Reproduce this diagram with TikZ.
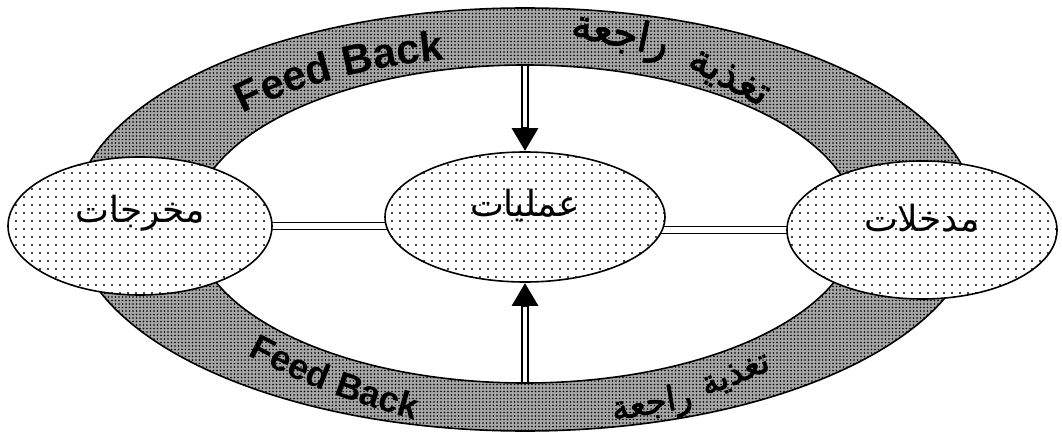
\documentclass[tikz,border=0pt]{standalone}
\usepackage{fontspec}
\setsansfont{Liberation Sans}
\newfontfamily\arabicfont[Script=Arabic]{DejaVu Sans}
\newfontface\arabicheavy[Script=Arabic,FakeBold=2]{DejaVu Sans}
\TeXXeTstate=1
\usetikzlibrary{shapes.geometric,arrows.meta,patterns.meta,decorations.text,backgrounds}

\begin{document}
\begin{tikzpicture}[
        x=1pt, y=1pt,
        blob/.style={
            ellipse,
            draw,
            line width=1.6pt,
            preaction={fill=white},
            pattern={Dots[distance=8pt, radius=1.1pt]},
            inner sep=0pt
        },
        lbl/.style={font=\arabicfont\fontsize{36}{38}\selectfont},
        ring/.style={draw, line width=1.6pt, even odd rule,
            preaction={fill=black!35, even odd rule},
            pattern={Dots[distance=3.5pt, radius=0.9pt]}},
        link/.style={draw, double, double distance=6pt, line width=1.3pt},
        feedarrow/.style={line width=8pt, -{Triangle[length=23pt, width=25pt]}},
        core/.style={white, line width=3.6pt, shorten <=1.5pt, shorten >=24pt},
        artop/.style={font=\arabicheavy\fontsize{41}{41}\selectfont, inner sep=0pt},
        arbot/.style={font=\arabicheavy\fontsize{34}{34}\selectfont, inner sep=0pt}
    ]

    \useasboundingbox (0,0) rectangle (1062,437);

    \node[blob, minimum width=264pt, minimum height=138pt] (outp) at (140,211) {};
    \node[blob, minimum width=280pt, minimum height=130pt] (proc) at (525,220) {};
    \node[blob, minimum width=270pt, minimum height=138pt] (inp) at (922,207) {};

    \node[lbl] (outp-txt) at ([yshift=13pt]outp.center) {\beginR مخرجات\endR};
    \node[lbl] (proc-txt) at ([yshift=12pt]proc.center) {\beginR عمليات\endR};
    \node[lbl] (inp-txt) at ([yshift=12pt]inp.center) {\beginR مدخلات\endR};

    % feedback text on the ring
    \path[decorate, decoration={text along path, text align=center,
        text={|\sffamily\bfseries\fontsize{42}{42}\selectfont|Feed Back}}]
        (525,215) ++(147:372pt and 166pt) arc[start angle=147, end angle=97, x radius=372pt, y radius=166pt];
    \path[decorate, decoration={text along path, text align=center,
        text={|\sffamily\bfseries\fontsize{36}{36}\selectfont|Feed Back}}]
        (243,84) .. controls (290,58) and (340,38) .. (420,15);

    \node[artop, rotate=-12] (fb-ar1) at (620,401) {\beginR راجعة\endR};
    \node[artop, rotate=-28] (fb-ar2) at (728,358) {\beginR تغذية\endR};
    \node[arbot, rotate=10] (fb-ar3) at (652,32) {\beginR راجعة\endR};
    \node[arbot, rotate=22] (fb-ar4) at (736,61) {\beginR تغذية\endR};

    \begin{scope}[on background layer]
        \draw[ring] (525,217.5) ellipse[x radius=452pt, y radius=211.5pt]
                    (525,213) ellipse[x radius=332pt, y radius=159pt];

        \draw[link] (outp.center) -- (outp.center -| proc.center);
        \draw[link] (inp.center -| proc.center) -- (inp.center);

        \coordinate (ringtop) at (525,372);
        \coordinate (ringbot) at (525,54);
        \draw[feedarrow] (ringtop) -- (proc.north);
        \draw[core] (ringtop) -- (proc.north);
        \draw[feedarrow] (ringbot) -- (proc.south);
        \draw[core] (ringbot) -- (proc.south);
    \end{scope}

\end{tikzpicture}
\end{document}
